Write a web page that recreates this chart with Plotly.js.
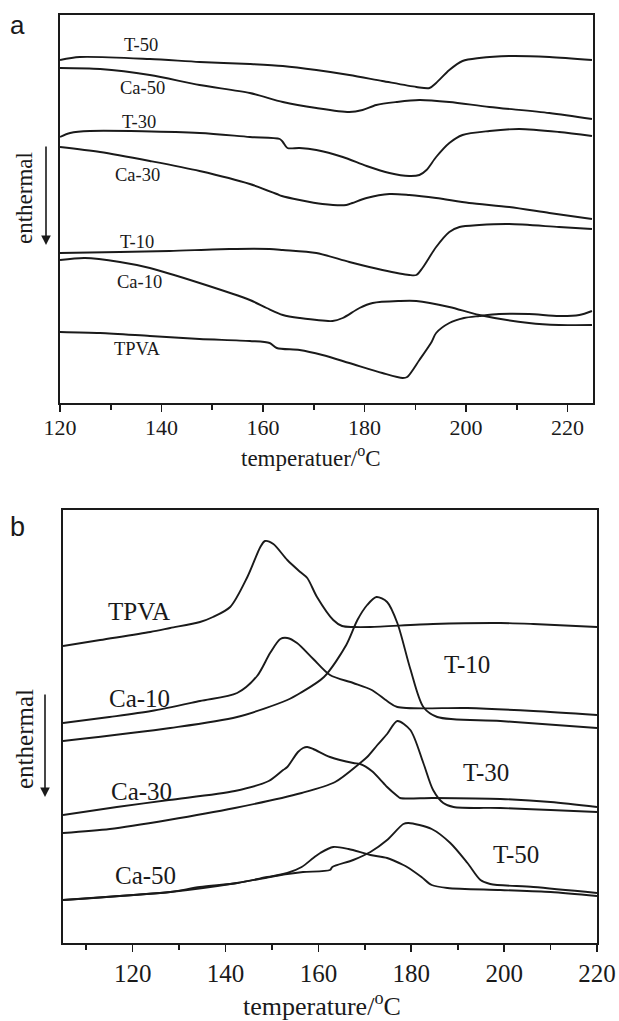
<!DOCTYPE html>
<html>
<head>
<meta charset="utf-8">
<script src="https://cdn.plot.ly/plotly-3.0.1.min.js"></script>
<style>
  html, body { margin: 0; padding: 0; background: #ffffff; }
  #chart { width: 619px; height: 1021px; }
</style>
</head>
<body>
<div id="chart"></div>
<script>
// ---- Panel a: heating scans (temperature in °C, heat flow in arbitrary units) ----
const aT50_T  = [120, 123.9, 137.7, 147.5, 157.4, 163.9, 170.5, 177.0, 183.5, 190.2, 192.8, 194.1, 196.7, 199.3, 202.6, 208.5, 216.4, 224.8];
const aT50_Q  = [343, 346, 344, 341, 339, 337, 333, 328, 322, 316, 315, 320, 333, 342, 345, 347, 346, 343];

const aCa50_T = [120, 127.9, 137.7, 147.5, 157.4, 163.9, 170.5, 177.0, 179.6, 182.3, 186.3, 190.8, 196.7, 204.6, 216.4, 224.8];
const aCa50_Q = [335, 334, 328, 318, 310, 301, 295, 291, 293, 298, 301, 303, 301, 296, 290, 284];

const aT30_T  = [120, 122.0, 125.9, 147.5, 157.4, 163.3, 163.9, 164.8, 167.2, 170.5, 175.7, 180.4, 184.9, 188.8, 190.8, 192.2, 194.1, 196.7, 199.3, 204.6, 210.5, 218.3, 224.8];
const aT30_Q  = [266, 270, 272, 270, 266, 264, 261, 255, 255, 253, 246, 237, 230, 227, 228, 233, 246, 260, 268, 272, 274, 271, 267];

const aCa30_T = [120, 127.9, 137.7, 147.5, 157.4, 162.7, 163.7, 167.2, 171.7, 176.4, 177.6, 180.4, 184.9, 188.8, 194.1, 200.6, 208.5, 216.4, 224.8];
const aCa30_Q = [256, 251, 242, 232, 219, 209, 207, 203, 199, 198, 200, 205, 209, 208, 205, 200, 196, 190, 184];

const aT10_T  = [120, 131.8, 141.6, 153.4, 161.3, 163.9, 170.5, 177.0, 183.5, 188.8, 190.2, 191.4, 194.1, 196.7, 198.7, 202.6, 208.5, 218.3, 224.8];
const aT10_Q  = [150, 151, 152, 154, 154, 153, 150, 141, 133, 128, 128, 135, 156, 171, 176, 178, 179, 176, 174];

const aCa10_T = [120, 124.9, 131.8, 137.7, 147.5, 157.4, 160.7, 163.9, 167.2, 173.7, 175.7, 179.0, 181.6, 186.9, 190.2, 196.7, 202.6, 212.4, 218.3, 224.8];
const aCa10_Q = [143, 145, 141, 135, 120, 103, 95, 88, 85, 82, 85, 95, 100, 102, 102, 96, 88, 80, 78, 78];

const aTPVA_T = [120, 127.9, 137.7, 147.5, 157.4, 161.3, 162.7, 167.2, 171.7, 177.0, 183.5, 187.5, 188.4, 190.8, 193.2, 194.1, 196.7, 199.6, 202.6, 206.5, 212.4, 218.3, 222.3, 224.8];
const aTPVA_Q = [71, 70, 67, 64, 62, 60, 55, 53, 48, 40, 30, 25, 26, 43, 61, 70, 80, 85, 87, 89, 89, 87, 88, 92];

// ---- Panel b: cooling scans ----
const bTPVA_T = [105, 113.0, 123.8, 128.1, 134.5, 137.3, 141.0, 144.7, 147.5, 148.5, 150.3, 153.3, 156.1, 157.6, 159.7, 163.2, 165.1, 167.5, 171.2, 184.7, 199.2, 206.3, 220];
const bTPVA_Q = [297, 303, 311, 315, 321, 326, 336, 366, 396, 402, 399, 383, 371, 365, 346, 323, 317, 316, 316, 319, 320, 319, 316];

const bCa10_T = [105, 115, 124, 134.5, 142.5, 146.8, 149.6, 151.8, 153.3, 155.4, 158.9, 162.5, 167.5, 171.5, 174.8, 177.0, 192.1, 206.3, 220];
const bCa10_Q = [220, 226, 232, 242, 250, 267, 290, 304, 305, 300, 284, 268, 260, 253, 242, 236, 235, 232, 228];

const bT10_T  = [105, 128.1, 142.5, 153.3, 156.1, 161.2, 166.0, 168.4, 170.5, 172.5, 174.8, 177.0, 179.8, 182.6, 185.6, 199.2, 220];
const bT10_Q  = [202, 215, 226, 243, 250, 266, 298, 323, 338, 346, 341, 320, 274, 236, 226, 222, 215];

const bCa30_T = [105, 116.6, 127.8, 142.0, 149.3, 152.4, 153.3, 155.6, 156.7, 157.6, 158.9, 162.5, 167.5, 169.0, 171.5, 174.0, 174.8, 177.0, 177.6, 184.7, 199.2, 210.0, 220];
const bCa30_Q = [128, 136, 143, 152, 162, 173, 176, 191, 195, 196, 194, 186, 180, 179, 172, 160, 156, 147, 145, 145, 144, 141, 136];

const bT30_T  = [105, 115.1, 127.7, 142.0, 156.4, 163.6, 169.0, 170.5, 172.7, 174.8, 177.0, 179.8, 182.6, 184.7, 186.9, 189.1, 199.2, 210.0, 220];
const bT30_Q  = [110, 114, 123, 135, 150, 161, 180, 186, 198, 209, 222, 213, 180, 153, 140, 136, 135, 133, 131];

const bCa50_T = [105, 120.1, 128.1, 134.5, 142.5, 149.0, 153.3, 156.4, 158.9, 160.4, 163.2, 166.5, 171.2, 174.8, 178.3, 179.1, 182.2, 184.4, 187.8, 199.2, 210.0, 220];
const bCa50_Q = [43, 48, 51, 56, 60, 66, 70, 76, 85, 90, 96, 94, 88, 85, 78, 76, 66, 58, 55, 53, 51, 47];

const bT50_T  = [105, 128.1, 142.5, 149.6, 153.3, 156.7, 162.5, 163.0, 167.5, 171.2, 174.8, 178.3, 179.4, 184.4, 188.4, 192.1, 194.9, 197.0, 206.3, 220];
const bT50_Q  = [43, 51, 60, 66, 69, 71, 73, 76, 83, 91, 103, 119, 120, 114, 100, 80, 63, 59, 56, 50];

// Curve labels: [text, temperature, heat-flow position]
const aLabels = [
  ['T-50', 136.0, 358], ['Ca-50', 136.3, 315], ['T-30', 135.6, 281], ['Ca-30', 135.3, 228],
  ['T-10', 135.1, 161], ['Ca-10', 135.7, 121], ['TPVA', 135.3, 54]
];
const bLabels = [
  ['TPVA', 121.4, 332], ['Ca-10', 121.4, 245], ['T-10', 192.1, 279], ['Ca-30', 122.0, 152],
  ['T-30', 196.2, 171], ['Ca-50', 122.7, 68], ['T-50', 202.6, 89]
];

const INK = '#1a1a1a';
const SERIF = 'Liberation Serif, Times New Roman, serif';
const SANS = 'Liberation Sans, Arial, sans-serif';

function curve(x, y, xa, ya) {
  return {
    x: x, y: y, xaxis: xa, yaxis: ya, type: 'scatter', mode: 'lines',
    line: { color: INK, width: 1.9, shape: 'spline', smoothing: 0.8 },
    hoverinfo: 'skip'
  };
}

const traces = [
  curve(aT50_T, aT50_Q, 'x', 'y'),
  curve(aCa50_T, aCa50_Q, 'x', 'y'),
  curve(aT30_T, aT30_Q, 'x', 'y'),
  curve(aCa30_T, aCa30_Q, 'x', 'y'),
  curve(aT10_T, aT10_Q, 'x', 'y'),
  curve(aCa10_T, aCa10_Q, 'x', 'y'),
  curve(aTPVA_T, aTPVA_Q, 'x', 'y'),
  curve(bTPVA_T, bTPVA_Q, 'x2', 'y2'),
  curve(bCa10_T, bCa10_Q, 'x2', 'y2'),
  curve(bT10_T, bT10_Q, 'x2', 'y2'),
  curve(bCa30_T, bCa30_Q, 'x2', 'y2'),
  curve(bT30_T, bT30_Q, 'x2', 'y2'),
  curve(bCa50_T, bCa50_Q, 'x2', 'y2'),
  curve(bT50_T, bT50_Q, 'x2', 'y2')
];

function xAxis(domain, range, anchor, fontSize, standoff) {
  return {
    domain: domain, range: range, anchor: anchor,
    tick0: 0, dtick: 20, ticks: 'outside', ticklen: 7, tickwidth: 1.6, tickcolor: INK,
    minor: { dtick: 10, tick0: 0, ticks: 'outside', ticklen: 5, tickwidth: 1.6, tickcolor: INK, showgrid: false },
    showline: true, linewidth: 2, linecolor: INK, mirror: true,
    showgrid: false, zeroline: false, ticklabelstandoff: standoff,
    tickfont: { family: SERIF, size: fontSize, color: INK }, fixedrange: true
  };
}
function yAxis(domain, range, anchor) {
  return {
    domain: domain, range: range, anchor: anchor,
    showticklabels: false, ticks: '', showline: true, linewidth: 2, linecolor: INK,
    mirror: true, showgrid: false, zeroline: false, fixedrange: true
  };
}

// Paper-positioned text helper (pixel position from the top-left of the figure)
function paperText(text, px, py, size, family, angle) {
  return {
    text: text, x: px / 619, y: (1021 - py) / 1021, xref: 'paper', yref: 'paper',
    xanchor: 'center', yanchor: 'middle', showarrow: false, textangle: angle || 0,
    font: { family: family, size: size, color: INK }
  };
}

const annotations = [];
aLabels.forEach(l => annotations.push({
  text: l[0], x: l[1], y: l[2], xref: 'x', yref: 'y', showarrow: false,
  xanchor: 'center', yanchor: 'middle',
  font: { family: SERIF, size: 18.5, color: INK }
}));
bLabels.forEach(l => annotations.push({
  text: l[0], x: l[1], y: l[2], xref: 'x2', yref: 'y2', showarrow: false,
  xanchor: 'center', yanchor: 'middle',
  font: { family: SERIF, size: 25, color: INK }
}));

annotations.push(
  paperText('a', 17, 25, 26, SANS),
  paperText('b', 17, 527, 27, SANS),
  paperText('temperatuer/<sup>o</sup>C', 311, 456, 23, SERIF),
  paperText('temperature/<sup>o</sup>C', 322, 1004, 26, SERIF),
  paperText('enthermal', 24, 198, 23, SERIF, -90),
  paperText('enthermal', 24, 739, 25, SERIF, -90),
  // downward arrows next to the "enthermal" captions
  { text: '', x: 46 / 619, y: (1021 - 245) / 1021, xref: 'paper', yref: 'paper',
    showarrow: true, ax: 0, ay: -100, arrowhead: 2, arrowsize: 1.2, arrowwidth: 1.6, arrowcolor: INK },
  { text: '', x: 45 / 619, y: (1021 - 797) / 1021, xref: 'paper', yref: 'paper',
    showarrow: true, ax: 0, ay: -104, arrowhead: 2, arrowsize: 1.2, arrowwidth: 1.6, arrowcolor: INK }
);

const layout = {
  width: 619, height: 1021,
  margin: { l: 0, r: 0, t: 0, b: 0 },
  paper_bgcolor: '#ffffff', plot_bgcolor: '#ffffff',
  showlegend: false,
  xaxis: xAxis([60 / 619, 593 / 619], [120, 225], 'y', 22, -3),
  yaxis: yAxis([(1021 - 403) / 1021, (1021 - 15) / 1021], [0, 388], 'x'),
  xaxis2: xAxis([63 / 619, 597 / 619], [105, 220], 'y2', 25, 0),
  yaxis2: yAxis([(1021 - 943) / 1021, (1021 - 510) / 1021], [0, 433], 'x2'),
  annotations: annotations
};

Plotly.newPlot('chart', traces, layout, { displayModeBar: false, staticPlot: true });
</script>
</body>
</html>
